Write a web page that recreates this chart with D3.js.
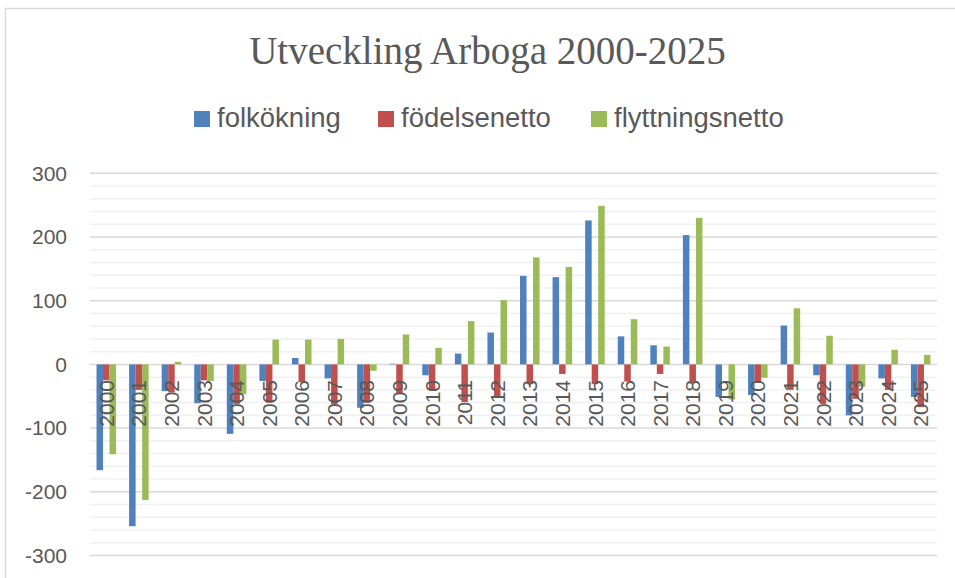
<!DOCTYPE html>
<html lang="sv">
<head>
    <meta charset="utf-8">
    <title>Utveckling Arboga 2000-2025</title>
    <style>
        body, html { margin: 0; height: 100%; overflow: hidden; background: #fff; }
        svg { display: block; }
    </style>
    <script src="https://d3js.org/d3.v7.min.js"></script>
</head>
<body>
    <svg></svg>

    <script>
        const years = ["2000","2001","2002","2003","2004","2005","2006","2007","2008","2009",
                       "2010","2011","2012","2013","2014","2015","2016","2017","2018","2019",
                       "2020","2021","2022","2023","2024","2025"];
        const folkokning = [-166, -254, -42, -61, -109, -26, 10, -22, -68, 1,
                            -17, 17, 50, 139, 137, 226, 44, 30, 203, -51,
                            -48, 61, -17, -80, -22, -51];
        const fodelsenetto = [-25, -40, -44, -25, -62, -60, -28, -63, -60, -46,
                              -41, -59, -51, -31, -15, -31, -27, -15, -29, 0,
                              -29, -40, -62, -54, -40, -67];
        const flyttningsnetto = [-141, -213, 4, -26, -47, 39, 39, 40, -10, 47,
                                 26, 68, 101, 168, 153, 249, 71, 28, 230, -55,
                                 -21, 88, 45, -35, 23, 15];
        const seriesNames = ["folkökning", "födelsenetto", "flyttningsnetto"];
        const seriesColors = ["#4f81bd", "#c0504d", "#9bbb59"];
        const yTicks = [-300, -200, -100, 0, 100, 200, 300];

        const width = 955, height = 578;
        const svg = d3.select("svg").attr("width", width).attr("height", height);

        const series = [folkokning, fodelsenetto, flyttningsnetto];

        // outer frame (only left and top edges are visible)
        svg.append("rect")
            .attr("x", 5.5).attr("y", 8.5)
            .attr("width", 970).attr("height", 600)
            .attr("fill", "none")
            .attr("stroke", "#d9d9d9")
            .attr("stroke-width", 1.5);

        const x = d3.scaleBand()
            .domain(years)
            .range([90, 937])
            .paddingInner(0.4)
            .paddingOuter(0.2);

        const xs = d3.scaleBand()
            .domain(seriesNames)
            .range([0, x.bandwidth()]);

        const y = d3.scaleLinear()
            .domain([-300, 300])
            .range([555.5, 173.3]);

        // minor gridlines every 20
        const minor = d3.range(-300, 301, 20).filter(v => v % 100 !== 0);
        svg.append("g")
            .selectAll("line")
            .data(minor)
            .join("line")
            .attr("x1", 90).attr("x2", 937)
            .attr("y1", d => y(d)).attr("y2", d => y(d))
            .attr("stroke", "#f0f0f0")
            .attr("stroke-width", 1.5);

        // major gridlines
        svg.append("g")
            .selectAll("line")
            .data(yTicks)
            .join("line")
            .attr("x1", 90).attr("x2", 937)
            .attr("y1", d => y(d)).attr("y2", d => y(d))
            .attr("stroke", "#d9d9d9")
            .attr("stroke-width", 1.5);

        // y axis labels (plain hyphen for negatives, like the original)
        const yAxis = svg.append("g")
            .attr("transform", "translate(67,0)")
            .call(d3.axisLeft(y).tickValues(yTicks).tickSize(0).tickPadding(0)
                .tickFormat(d => String(d)));
        yAxis.select(".domain").remove();
        yAxis.selectAll("text")
            .attr("font-family", "'Liberation Sans', Arial, sans-serif")
            .attr("font-size", 21)
            .attr("fill", "#595959");

        // bars
        const groups = svg.append("g")
            .selectAll("g")
            .data(series)
            .join("g")
            .attr("fill", (d, i) => seriesColors[i]);

        groups.selectAll("rect")
            .data((d, i) => d.map((v, j) => ({ v, year: years[j], name: seriesNames[i] })))
            .join("rect")
            .attr("x", d => x(d.year) + xs(d.name))
            .attr("width", xs.bandwidth())
            .attr("y", d => y(Math.max(0, d.v)))
            .attr("height", d => Math.abs(y(d.v) - y(0)));

        // x axis labels, rotated, just below the zero line
        svg.append("g")
            .selectAll("text")
            .data(years)
            .join("text")
            .attr("transform", d => `translate(${x(d) + x.bandwidth() / 2},380) rotate(-90)`)
            .attr("text-anchor", "end")
            .attr("dy", "0.36em")
            .attr("font-family", "'Liberation Sans', Arial, sans-serif")
            .attr("font-size", 21)
            .attr("fill", "#595959")
            .text(d => d);

        // title
        svg.append("text")
            .attr("x", 487.5)
            .attr("y", 64)
            .attr("text-anchor", "middle")
            .attr("font-family", "'Liberation Serif', 'Times New Roman', serif")
            .attr("font-size", 39)
            .attr("fill", "#595959")
            .text("Utveckling Arboga 2000-2025");

        // legend
        const legendX = [194, 378, 591];
        const legend = svg.append("g")
            .selectAll("g")
            .data(seriesNames)
            .join("g")
            .attr("transform", (d, i) => `translate(${legendX[i]},111)`);
        legend.append("rect")
            .attr("width", 16).attr("height", 16)
            .attr("fill", (d, i) => seriesColors[i]);
        legend.append("text")
            .attr("x", 23)
            .attr("y", 16)
            .attr("font-family", "'Liberation Sans', Arial, sans-serif")
            .attr("font-size", 27.5)
            .attr("fill", "#595959")
            .text(d => d);
    </script>
</body>
</html>
